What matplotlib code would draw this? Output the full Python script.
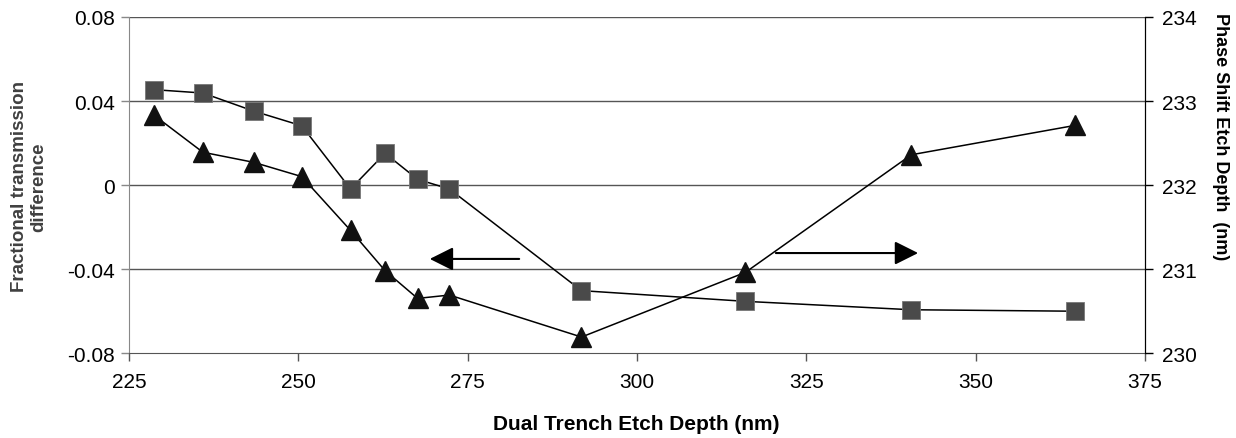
import numpy as np
import matplotlib
matplotlib.use("Agg")
import matplotlib.pyplot as plt

plt.rcParams['font.family'] = ['Liberation Sans', 'DejaVu Sans']

# dual trench etch depth (nm)
depth = [228.7, 235.9, 243.4, 250.5, 257.7, 262.8, 267.6, 272.3, 291.8, 316.0, 340.5, 364.7]
# fractional transmission difference (left axis, squares)
trans_diff = [0.0454, 0.0438, 0.0352, 0.0282, -0.0019, 0.0151, 0.0027, -0.0019,
              -0.0503, -0.0554, -0.0594, -0.0601]
# phase shift etch depth (right axis, triangles)
phase_depth = [232.83, 232.39, 232.27, 232.10, 231.46, 230.98, 230.65, 230.69,
               230.19, 230.96, 232.36, 232.71]

left_ticks = [-0.08, -0.04, 0, 0.04, 0.08]
left_labels = ['-0.08', '-0.04', '0', '0.04', '0.08']
right_ticks = [230, 231, 232, 233, 234]
x_ticks = [225, 250, 275, 300, 325, 350, 375]

fig = plt.figure(figsize=(12.36, 4.39), dpi=100)
ax = fig.add_axes([0.1044, 0.1936, 0.822, 0.7654])
ax2 = ax.twinx()

for y in [-0.04, 0, 0.04, 0.08]:
    ax.axhline(y, color='#555555', lw=1.0, zorder=0)

ax.plot(depth, trans_diff, color='black', lw=1.1, marker='s', ms=12.5,
        markerfacecolor='#4a4a4a', markeredgecolor='#777777', markeredgewidth=0.6,
        clip_on=False, zorder=3)
ax2.plot(depth, phase_depth, color='black', lw=1.1, marker='^', ms=14,
         markerfacecolor='#111111', markeredgecolor='#111111', clip_on=False, zorder=3)

ax.set_xlim(225, 375)
ax.set_ylim(-0.08, 0.08)
ax2.set_ylim(230, 234)
ax.set_xticks(x_ticks)
ax.set_yticks(left_ticks)
ax.set_yticklabels(left_labels)
ax2.set_yticks(right_ticks)

for a in (ax, ax2):
    a.tick_params(direction='out', length=6, width=1, labelsize=15, colors='black')
    a.spines['top'].set_visible(False)
ax.tick_params(axis='y', pad=4)
ax2.tick_params(axis='y', pad=6)
ax.spines['left'].set_color('#888888')
ax.spines['bottom'].set_color('#555555')
ax2.spines['left'].set_visible(False)
ax2.spines['bottom'].set_visible(False)
ax2.spines['right'].set_color('black')
ax.tick_params(axis='x', color='#555555', pad=8)
ax.tick_params(axis='y', color='#888888')

# axis titles placed as in the original
fig.text(636 / 1236, 1 - 425 / 439, 'Dual Trench Etch Depth (nm)', fontsize=15,
         fontweight='bold', ha='center', va='center')
fig.text(29 / 1236, 1 - 187 / 439, 'Fractional transmission\ndifference', fontsize=13.5,
         fontweight='bold', color='#404040', rotation=90, ha='center', va='center',
         multialignment='center', linespacing=1.15)
fig.text(1220 / 1236, 1 - 137 / 439, 'Phase Shift Etch Depth  (nm)', fontsize=13,
         fontweight='bold', rotation=-90, ha='center', va='center')

# direction arrows
ax.annotate('', xy=(269.4, -0.0352), xytext=(282.6, -0.0352),
            arrowprops=dict(arrowstyle='-|>', mutation_scale=36, color='black', lw=1.5,
                            shrinkA=0, shrinkB=0))
ax.annotate('', xy=(341.5, -0.0324), xytext=(320.5, -0.0324),
            arrowprops=dict(arrowstyle='-|>', mutation_scale=36, color='black', lw=1.5,
                            shrinkA=0, shrinkB=0))

fig.savefig('out.png', dpi=100)
